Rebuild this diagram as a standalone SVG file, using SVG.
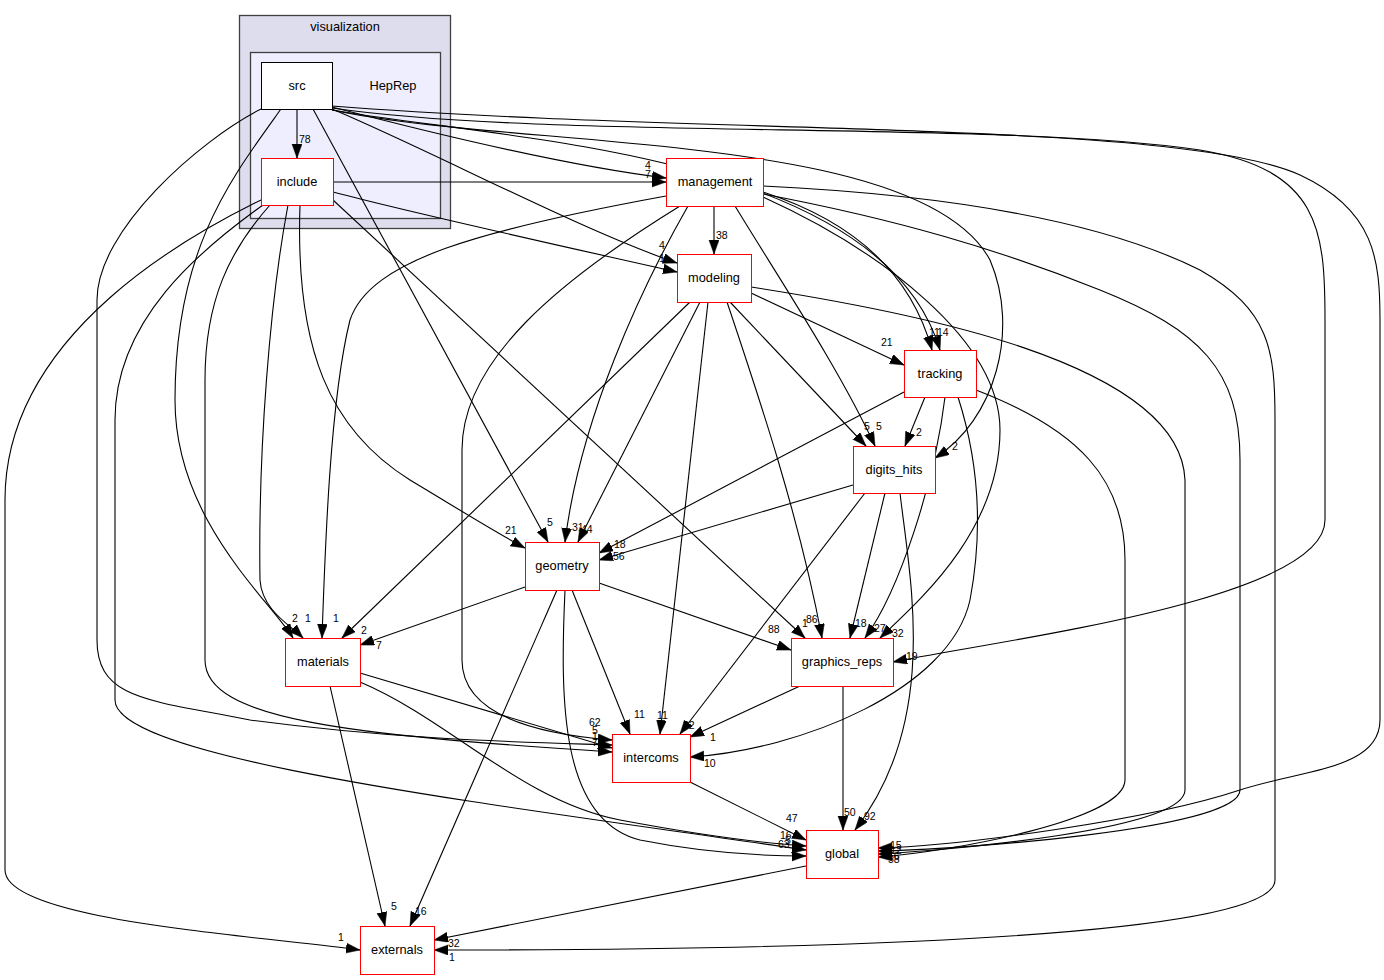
<svg xmlns="http://www.w3.org/2000/svg" width="1384" height="980" viewBox="0 0 1384 980">
<style>
.node rect{fill:#fff;stroke:#ff0000;stroke-width:1}
.node text{font-family:"Liberation Sans",Arial,sans-serif;font-size:12.8px;text-anchor:middle;fill:#000}
.edges path{fill:none;stroke:#000;stroke-width:1.1;marker-end:url(#arr)}
.lbl text{font-family:"Liberation Sans",Arial,sans-serif;font-size:10.5px;fill:#000}
.ct{font-family:"Liberation Sans",Arial,sans-serif;font-size:12.8px;text-anchor:middle;fill:#000}
</style>
<defs>
<marker id="arr" markerUnits="userSpaceOnUse" markerWidth="15" markerHeight="11" refX="14" refY="5" orient="auto">
<path d="M0,0 L14,5 L0,10 z" fill="#000" stroke="#000" stroke-width="0.5"/>
</marker>
</defs>
<rect width="1384" height="980" fill="#fff"/>
<g id="cluster_visualization">
<rect x="239.5" y="15.5" width="211" height="213" fill="#ddddee" stroke="#404040" stroke-width="1.3"/>
<text class="ct" x="345" y="31">visualization</text>
</g>
<g id="cluster_HepRep">
<rect x="250.5" y="52.5" width="190" height="166" fill="#eeeeff" stroke="#404040" stroke-width="1.3"/>
<text class="ct" x="393" y="90">HepRep</text>
</g>
<g class="edges" id="edges">
<path d="M297,110 V158"/>
<path d="M332,107 C420,130 560,165 666,178"/>
<path d="M333,182 H666"/>
<path d="M332,109 C430,150 580,230 677,263"/>
<path d="M333,192 C420,215 580,250 677,272"/>
<path d="M332,110 C500,140 880,150 940,350"/>
<path d="M763,192 C850,220 910,270 932,350"/>
<path d="M332,110 C520,150 920,130 990,260 C1020,330 995,420 935,458"/>
<path d="M332,108 C550,140 1000,120 1200,150 C1320,170 1325,230 1325,320 L1325,520 C1325,600 1000,640 893,662"/>
<path d="M332,106 C700,135 1180,120 1300,175 C1375,210 1380,260 1380,320 L1380,720 C1380,770 1300,770 1240,790 C1150,820 960,846 878,848"/>
<path d="M763,194 C900,220 1000,250 1100,290 C1200,330 1240,370 1240,460 L1240,790 C1240,830 950,850 878,851"/>
<path d="M763,186 C950,195 1100,220 1200,270 C1270,310 1275,350 1275,420 L1275,880 C1275,950 600,950 434,950"/>
<path d="M751,287 C900,310 1180,360 1185,480 L1185,790 C1185,830 950,850 878,854"/>
<path d="M976,390 C1080,430 1125,480 1125,560 L1125,780 C1125,820 950,852 878,857"/>
<path d="M261,109 C200,140 97,230 97,300 L97,640 C97,700 150,700 250,720 C400,740 520,742 612,745"/>
<path d="M270,205 C230,250 205,300 205,380 L205,660 C205,720 350,735 612,752"/>
<path d="M263,205 C200,250 115,320 115,420 L115,700 C115,760 500,805 806,850"/>
<path d="M261,200 C200,230 5,330 5,500 L5,870 C5,920 250,935 360,950"/>
<path d="M288,205 C270,300 258,450 260,580 C262,610 290,625 303,638"/>
<path d="M281,109 C230,180 175,250 175,400 C175,520 270,600 293,638"/>
<path d="M666,196 C480,230 370,260 350,320 C330,400 325,550 322,638"/>
<path d="M690,302 L342,638"/>
<path d="M300,205 C295,350 330,430 410,480 C460,510 500,535 525,548"/>
<path d="M313,109 L548,542"/>
<path d="M688,206 C640,290 580,420 565,542"/>
<path d="M700,302 L578,542"/>
<path d="M904,392 L599,553"/>
<path d="M853,485 L599,560"/>
<path d="M333,200 L805,638"/>
<path d="M727,302 C760,400 800,520 822,638"/>
<path d="M885,493 L850,638"/>
<path d="M945,397 C935,480 900,590 865,638"/>
<path d="M763,197 C880,250 1000,340 1000,430 C1000,530 920,600 880,638"/>
<path d="M714,206 V254"/>
<path d="M735,206 C780,280 840,370 875,446"/>
<path d="M730,302 L866,446"/>
<path d="M680,206 C560,280 462,360 462,450 L462,660 C462,720 550,735 612,740"/>
<path d="M708,302 L660,734"/>
<path d="M751,293 L904,365"/>
<path d="M925,397 L905,446"/>
<path d="M958,397 C975,450 985,520 970,600 C950,690 800,750 690,757"/>
<path d="M865,493 L680,734"/>
<path d="M900,493 C910,580 940,720 855,830"/>
<path d="M800,686 L690,737"/>
<path d="M843,686 V830"/>
<path d="M525,587 L360,645"/>
<path d="M599,583 L791,650"/>
<path d="M572,590 L630,734"/>
<path d="M557,590 L410,926"/>
<path d="M565,590 C560,700 560,820 640,840 C700,852 750,856 806,856"/>
<path d="M360,673 L612,748"/>
<path d="M360,682 C450,720 520,800 620,820 C700,835 760,843 806,846"/>
<path d="M330,686 L385,926"/>
<path d="M690,782 L806,840"/>
<path d="M806,866 L434,940"/>
</g>
<g class="lbl" id="labels">
<text x="299" y="143">78</text>
<text x="645" y="169">4</text>
<text x="645" y="178">7</text>
<text x="659" y="249">4</text>
<text x="659" y="262">1</text>
<text x="929" y="336">11</text>
<text x="937" y="336">14</text>
<text x="952" y="450">2</text>
<text x="906" y="660">19</text>
<text x="890" y="849">15</text>
<text x="890" y="854">12</text>
<text x="888" y="860">56</text>
<text x="888" y="863">58</text>
<text x="589" y="726">62</text>
<text x="592" y="734">5</text>
<text x="592" y="740">1</text>
<text x="592" y="746">7</text>
<text x="780" y="839">16</text>
<text x="785" y="844">5</text>
<text x="778" y="848">63</text>
<text x="338" y="941">1</text>
<text x="305" y="622">1</text>
<text x="292" y="622">2</text>
<text x="333" y="622">1</text>
<text x="361" y="634">2</text>
<text x="505" y="534">21</text>
<text x="547" y="526">5</text>
<text x="572" y="531">31</text>
<text x="581" y="533">44</text>
<text x="614" y="548">18</text>
<text x="613" y="560">56</text>
<text x="802" y="627">1</text>
<text x="806" y="623">86</text>
<text x="855" y="627">18</text>
<text x="874" y="632">27</text>
<text x="892" y="637">32</text>
<text x="716" y="239">38</text>
<text x="864" y="430">5</text>
<text x="876" y="430">5</text>
<text x="881" y="346">21</text>
<text x="916" y="436">2</text>
<text x="704" y="767">10</text>
<text x="683" y="729">32</text>
<text x="864" y="820">92</text>
<text x="710" y="741">1</text>
<text x="844" y="816">50</text>
<text x="376" y="649">7</text>
<text x="768" y="633">88</text>
<text x="634" y="718">11</text>
<text x="657" y="719">11</text>
<text x="415" y="915">16</text>
<text x="391" y="910">5</text>
<text x="786" y="822">47</text>
<text x="448" y="947">32</text>
<text x="449" y="961">1</text>
</g>
<g class="node" id="node_src"><rect x="261.5" y="62.5" width="71" height="47" style="stroke:#000"/><text x="297" y="90">src</text></g>
<g class="node" id="node_include"><rect x="261.5" y="158.5" width="72" height="47"/><text x="297" y="186">include</text></g>
<g class="node" id="node_management"><rect x="666.5" y="158.5" width="97" height="48"/><text x="715" y="186">management</text></g>
<g class="node" id="node_modeling"><rect x="677.5" y="254.5" width="74" height="48"/><text x="714" y="282">modeling</text></g>
<g class="node" id="node_tracking"><rect x="904.5" y="350.5" width="72" height="47"/><text x="940" y="378">tracking</text></g>
<g class="node" id="node_digits_hits"><rect x="853.5" y="446.5" width="82" height="47"/><text x="894" y="474">digits_hits</text></g>
<g class="node" id="node_geometry"><rect x="525.5" y="542.5" width="74" height="48"/><text x="562" y="570">geometry</text></g>
<g class="node" id="node_materials"><rect x="285.5" y="638.5" width="75" height="48"/><text x="323" y="666">materials</text></g>
<g class="node" id="node_graphics_reps"><rect x="791.5" y="638.5" width="102" height="48"/><text x="842" y="666">graphics_reps</text></g>
<g class="node" id="node_intercoms"><rect x="612.5" y="734.5" width="78" height="48"/><text x="651" y="762">intercoms</text></g>
<g class="node" id="node_global"><rect x="806.5" y="830.5" width="72" height="48"/><text x="842" y="858">global</text></g>
<g class="node" id="node_externals"><rect x="360.5" y="926.5" width="74" height="48"/><text x="397" y="954">externals</text></g>
</svg>
